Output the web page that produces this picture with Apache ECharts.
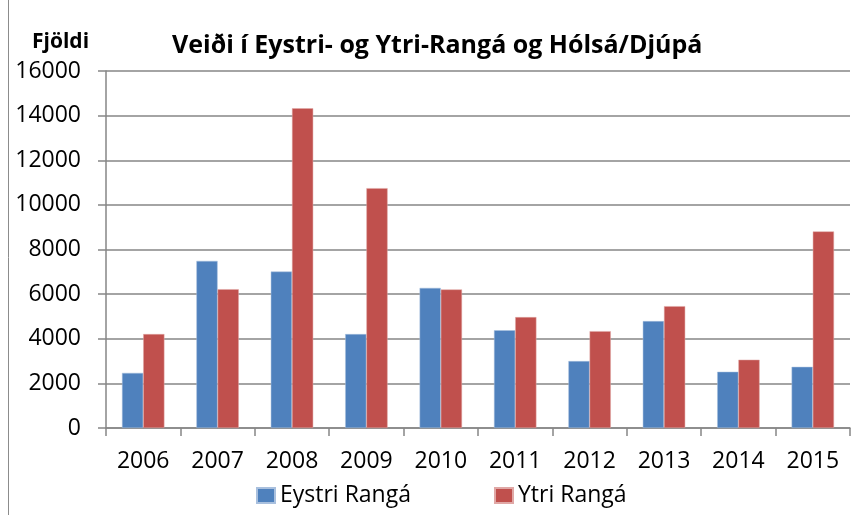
<!DOCTYPE html>
<html>
	<head>
		<meta charset="utf-8" />
		<title>Veiði í Eystri- og Ytri-Rangá og Hólsá/Djúpá</title>
		<script type="text/javascript" src="https://cdn.jsdelivr.net/npm/echarts@6/dist/echarts.min.js"></script>
		<style>
			html, body { margin: 0; padding: 0; background: #fff; }
		</style>
	</head>
	<body>
		<div id="main" style="width:853px; height:515px;"></div>
		<script>
			// ár
			var years = ['2006', '2007', '2008', '2009', '2010', '2011', '2012', '2013', '2014', '2015'];
			// veiði, fjöldi laxa
			var eystri = [2470, 7490, 7010, 4210, 6280, 4380, 3000, 4790, 2520, 2740];
			var ytri   = [4210, 6220, 14330, 10750, 6210, 4970, 4340, 5460, 3060, 8810];
			var seriesNames = ['Eystri Rangá', 'Ytri Rangá'];

			var font = '"Open Sans", "DejaVu Sans", sans-serif';
			var gray = '#868686';

			var chartDom = document.getElementById('main');
			var myChart = echarts.init(chartDom);

			var option = {
				animation: false,
				backgroundColor: '#fff',
				title: [
					{
						text: 'Veiði í Eystri- og Ytri-Rangá og Hólsá/Djúpá',
						left: 167,
						top: 28,
						textStyle: { fontFamily: font, fontWeight: 'bold', fontSize: 25, color: '#000' }
					},
					{
						text: 'Fjöldi',
						left: 27,
						top: 27,
						textStyle: { fontFamily: font, fontWeight: 'bold', fontSize: 21, color: '#000' }
					}
				],
				legend: {
					left: 251,
					top: 479,
					itemWidth: 18,
					itemHeight: 15,
					itemGap: 83,
					icon: 'rect',
					textStyle: { fontFamily: font, fontSize: 23, color: '#000' },
					data: seriesNames
				},
				grid: {
					left: 106,
					right: 3,
					top: 71,
					bottom: 87,
					containLabel: false
				},
				xAxis: {
					type: 'category',
					data: years,
					boundaryGap: true,
					axisLine: { lineStyle: { color: gray, width: 1.5 } },
					axisTick: { show: true, length: 8, lineStyle: { color: gray, width: 1.5 } },
					axisLabel: { fontFamily: font, fontSize: 23, color: '#000', margin: 22 }
				},
				yAxis: {
					type: 'value',
					min: 0,
					max: 16000,
					interval: 2000,
					axisLine: { show: true, lineStyle: { color: gray, width: 1.5 } },
					axisTick: { show: true, length: 8, lineStyle: { color: gray, width: 1.5 } },
					axisLabel: {
						fontFamily: font, fontSize: 23, color: '#000', margin: 25,
						formatter: function (v) { return String(v); }
					},
					splitLine: { lineStyle: { color: gray, width: 1.5 } }
				},
				graphic: [
					{
						type: 'line',
						shape: { x1: 8.5, y1: 0, x2: 8.5, y2: 515 },
						style: { stroke: '#8c8c8c', lineWidth: 1 }
					}
				],
				series: [
					{
						name: seriesNames[0],
						type: 'bar',
						data: eystri,
						barGap: '0%',
						barCategoryGap: '43%',
						itemStyle: { color: '#4F81BD', borderColor: '#a9c0de', borderWidth: 0.5 }
					},
					{
						name: seriesNames[1],
						type: 'bar',
						data: ytri,
						itemStyle: { color: '#C0504D', borderColor: '#e0a8a6', borderWidth: 0.5 }
					}
				]
			};

			myChart.setOption(option);
		</script>
	</body>
</html>
